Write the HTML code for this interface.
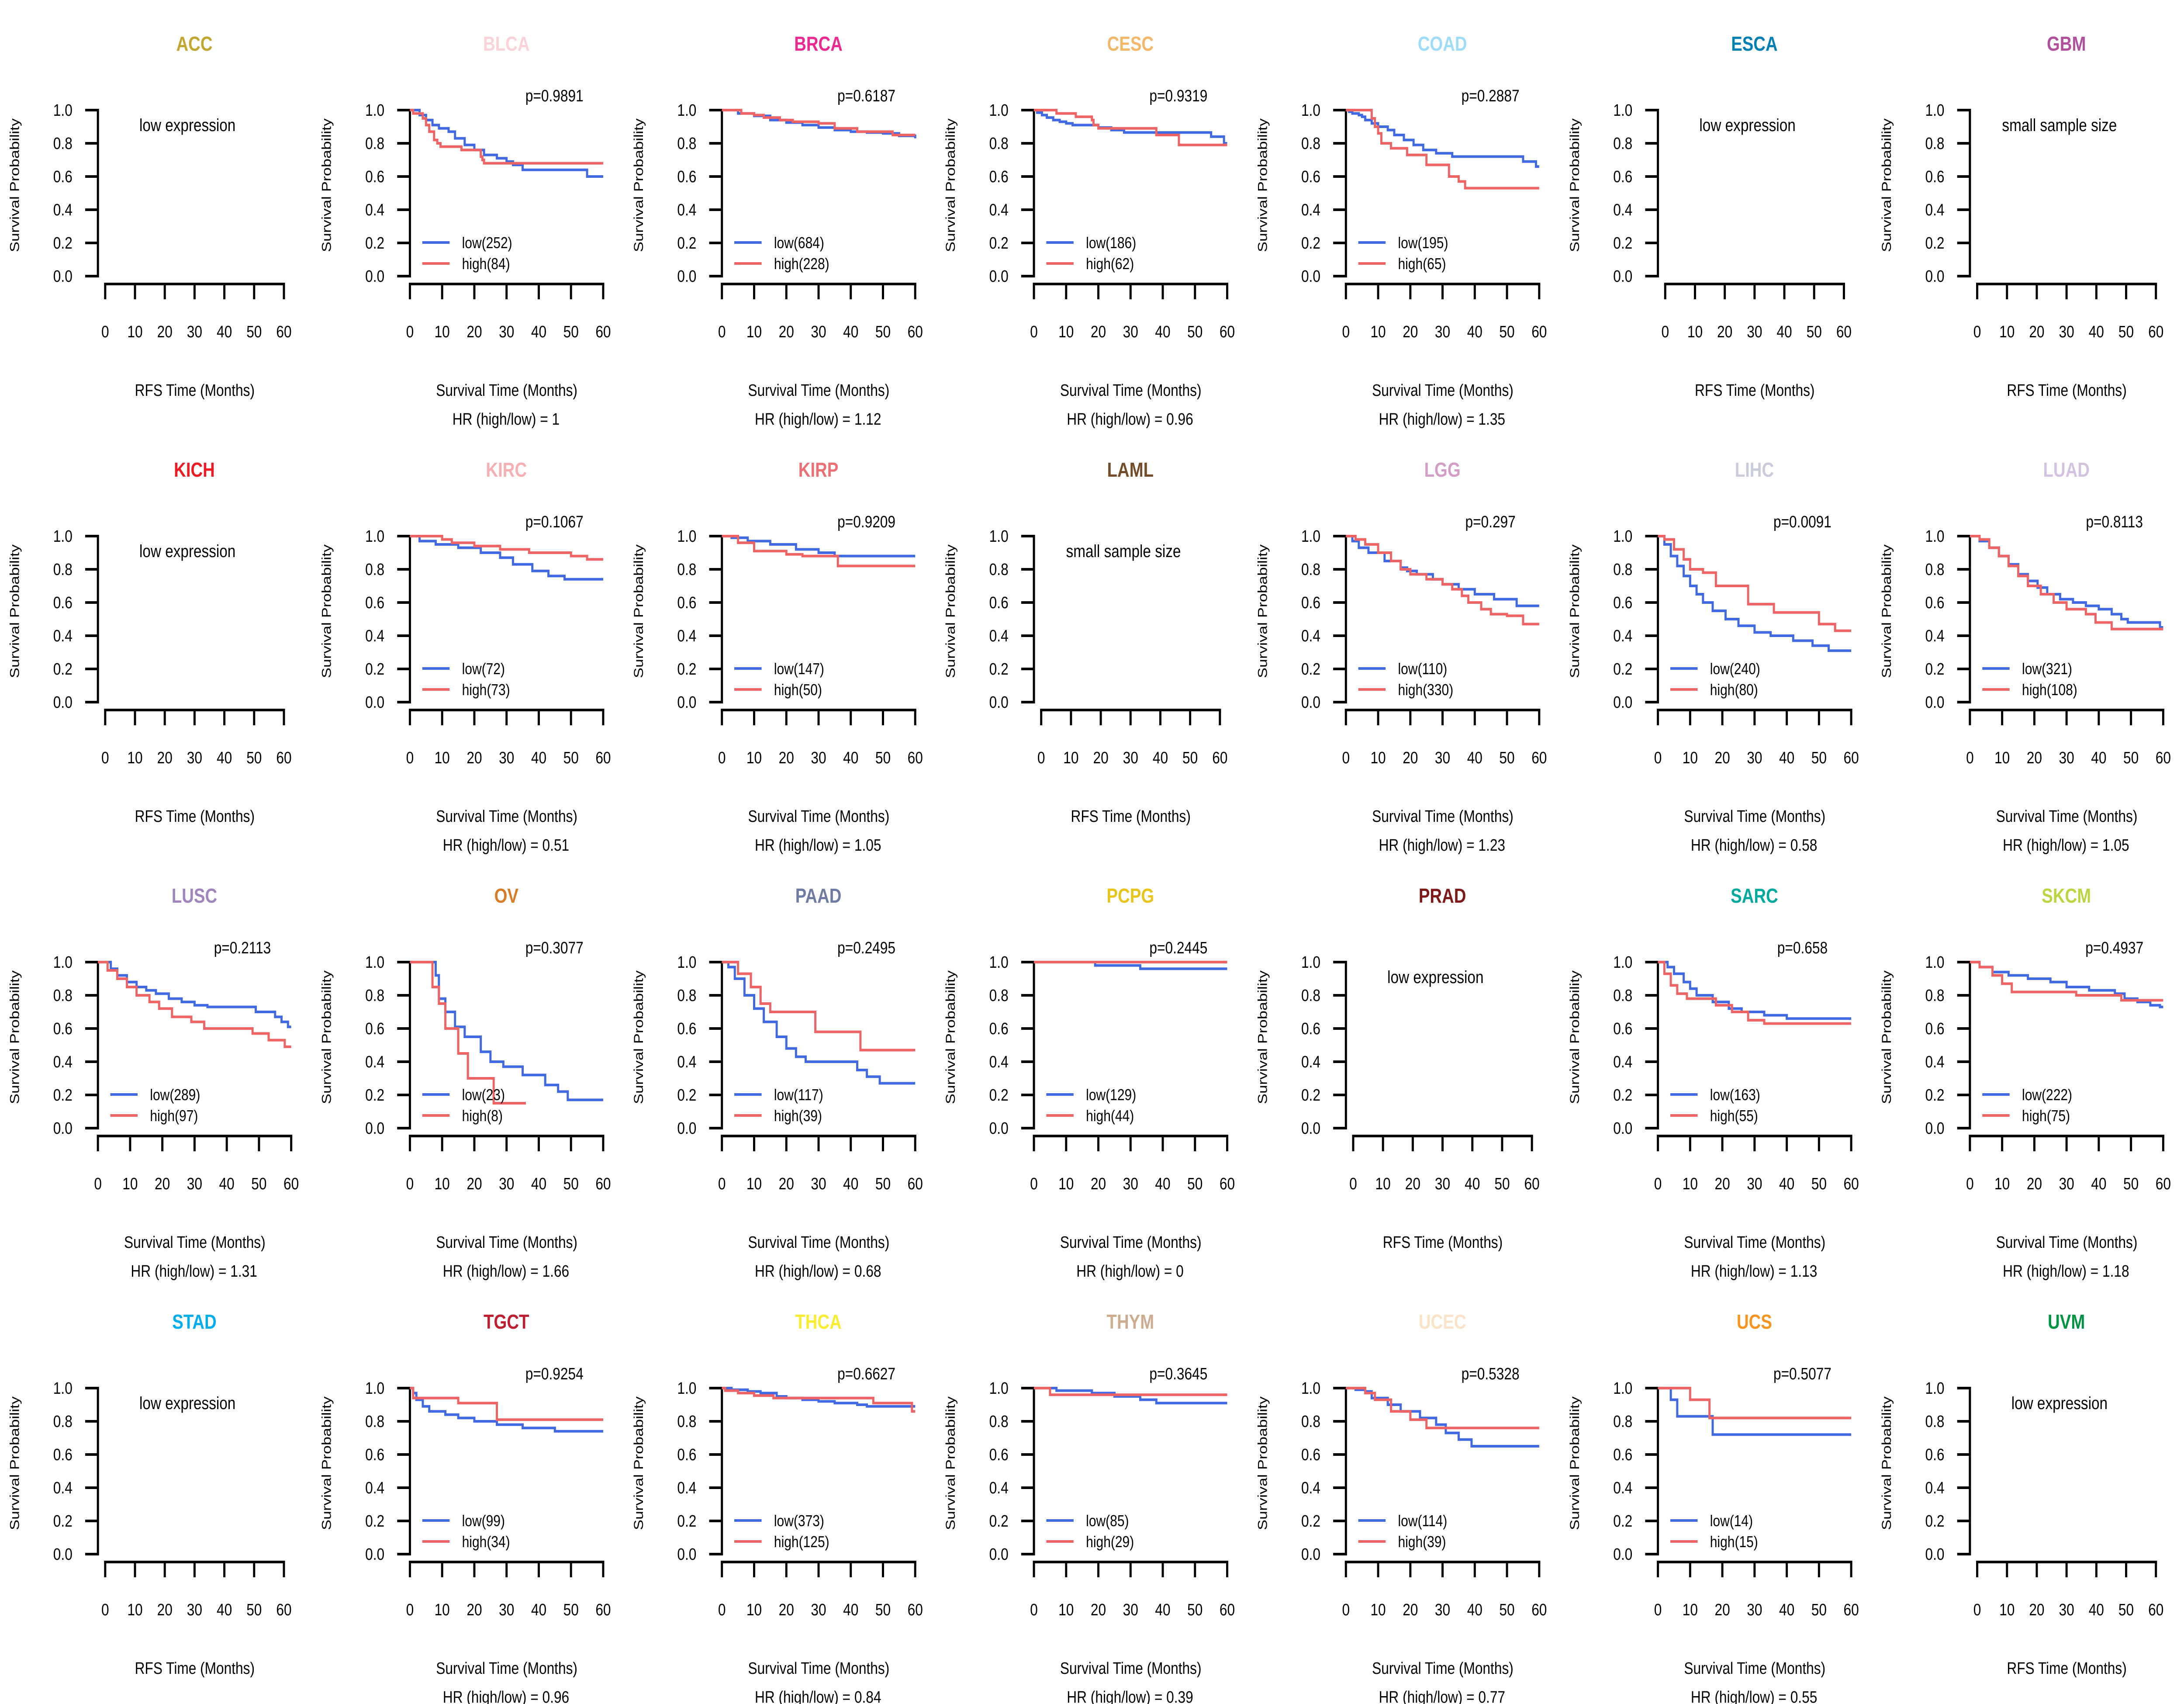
<!DOCTYPE html>
<html><head><meta charset="utf-8">
<style>
html,body{margin:0;padding:0;background:#fff;width:100%;height:100%;overflow:hidden;}
svg{display:block;font-family:"Liberation Sans",Arial,sans-serif;width:100vw;height:100vh;}
</style></head>
<body>
<svg id="chart" xmlns="http://www.w3.org/2000/svg" viewBox="0 0 6000 3900" preserveAspectRatio="none"></svg>
<script>
const cancers = ["ACC","BLCA","BRCA","CESC","COAD","ESCA","GBM","KICH","KIRC","KIRP","LAML","LGG","LIHC","LUAD","LUSC","OV","PAAD","PCPG","PRAD","SARC","SKCM","STAD","TGCT","THCA","THYM","UCEC","UCS","UVM"];
const titleColors = ["#C1A72F","#FAD2D9","#ED2891","#F6B667","#9EDDF9","#007EB5","#B2509E","#ED1C24","#F8AFB3","#EA7075","#754C29","#D49DC7","#CACCDB","#D3C3E0","#A084BD","#D97D25","#6E7BA2","#E8C51D","#7E1918","#00A99D","#BBD642","#00AEEF","#BE1E2D","#F9ED32","#CEAC8F","#FBE3C7","#F89420","#009444"];
const notes = {ACC:"low expression",ESCA:"low expression",GBM:"small sample size",KICH:"low expression",LAML:"small sample size",PRAD:"low expression",STAD:"low expression",UVM:"low expression"};
const pValues = {BLCA:"0.9891",BRCA:"0.6187",CESC:"0.9319",COAD:"0.2887",KIRC:"0.1067",KIRP:"0.9209",LGG:"0.297",LIHC:"0.0091",LUAD:"0.8113",LUSC:"0.2113",OV:"0.3077",PAAD:"0.2495",PCPG:"0.2445",SARC:"0.658",SKCM:"0.4937",TGCT:"0.9254",THCA:"0.6627",THYM:"0.3645",UCEC:"0.5328",UCS:"0.5077"};
const nLow = {BLCA:252,BRCA:684,CESC:186,COAD:195,KIRC:72,KIRP:147,LGG:110,LIHC:240,LUAD:321,LUSC:289,OV:23,PAAD:117,PCPG:129,SARC:163,SKCM:222,TGCT:99,THCA:373,THYM:85,UCEC:114,UCS:14};
const nHigh = {BLCA:84,BRCA:228,CESC:62,COAD:65,KIRC:73,KIRP:50,LGG:330,LIHC:80,LUAD:108,LUSC:97,OV:8,PAAD:39,PCPG:44,SARC:55,SKCM:75,TGCT:34,THCA:125,THYM:29,UCEC:39,UCS:15};
const hrValues = {BLCA:"1",BRCA:"1.12",CESC:"0.96",COAD:"1.35",KIRC:"0.51",KIRP:"1.05",LGG:"1.23",LIHC:"0.58",LUAD:"1.05",LUSC:"1.31",OV:"1.66",PAAD:"0.68",PCPG:"0",SARC:"1.13",SKCM:"1.18",TGCT:"0.96",THCA:"0.84",THYM:"0.39",UCEC:"0.77",UCS:"0.55"};
const xTicks = [0,10,20,30,40,50,60];
const yTicks = [0,0.2,0.4,0.6,0.8,1.0];
const yTickLabels = ["0.0","0.2","0.4","0.6","0.8","1.0"];
const lowT = {
BLCA:[0,3,5,7,9,12,14,17,20,23,27,30,32,35,55,60],
BRCA:[0,5,10,15,20,25,30,35,40,45,50,55,60],
CESC:[0,1,2.5,4,6,8,10,12,20,24,28,55,59,60],
COAD:[0,1,2,4,5,6,8,10,13,15,18,21,24,28,33,55,59,60],
KIRC:[0,3,8,15,22,28,32,38,43,48,60],
KIRP:[0,3,8,15,23,30,35,60],
LGG:[0,2,4,7,12,17,19,22,27,30,35,40,46,53,60],
LIHC:[0,2,4,6,8,10,12,14,17,21,25,30,35,42,48,53,60],
LUAD:[0,3,6,9,12,15,18,21,24,28,32,36,40,44,47,49,59,60],
LUSC:[0,4,6,9,12,15,18,22,26,30,34,49,55,57,59,60],
OV:[0,8,9,11,14,17,22,25,29,35,42,46,49,51,60],
PAAD:[0,2,4,7,10,13,17,20,23,26,42,45,49,60],
PCPG:[0,19,33,60],
SARC:[0,3,5,8,10,12,17,22,26,33,40,60],
SKCM:[0,3,7,12,18,25,30,37,45,48,52,56,59,60],
TGCT:[0,1,2,4,6,11,15,20,27,35,45,60],
THCA:[0,3,8,12,17,20,25,30,35,42,45,60],
THYM:[0,7,18,25,33,38,60],
UCEC:[0,3,6,8,13,17,23,28,31,35,39,60],
UCS:[0,4,6,17,60]};
const lowS = {
BLCA:[1,0.97,0.94,0.91,0.89,0.87,0.83,0.79,0.76,0.73,0.71,0.69,0.67,0.64,0.60,0.60],
BRCA:[1,0.98,0.965,0.94,0.925,0.91,0.895,0.88,0.87,0.865,0.86,0.845,0.83],
CESC:[1,0.985,0.97,0.955,0.94,0.93,0.92,0.91,0.895,0.88,0.865,0.84,0.80,0.80],
COAD:[1,0.99,0.98,0.97,0.96,0.94,0.92,0.90,0.88,0.85,0.82,0.79,0.76,0.74,0.72,0.69,0.66,0.66],
KIRC:[1,0.97,0.95,0.93,0.90,0.87,0.83,0.79,0.76,0.74,0.74],
KIRP:[1,0.99,0.97,0.95,0.92,0.90,0.88,0.88],
LGG:[1,0.97,0.93,0.90,0.85,0.81,0.79,0.77,0.74,0.71,0.68,0.65,0.62,0.58,0.58],
LIHC:[1,0.95,0.88,0.82,0.76,0.70,0.65,0.60,0.55,0.50,0.46,0.42,0.40,0.37,0.34,0.31,0.31],
LUAD:[1,0.97,0.93,0.88,0.83,0.77,0.73,0.69,0.65,0.62,0.60,0.58,0.56,0.53,0.50,0.48,0.45,0.45],
LUSC:[1,0.96,0.92,0.88,0.85,0.83,0.81,0.78,0.76,0.74,0.73,0.70,0.67,0.64,0.61,0.61],
OV:[1,0.92,0.78,0.70,0.61,0.55,0.46,0.40,0.37,0.32,0.26,0.22,0.17,0.17,0.17],
PAAD:[1,0.97,0.90,0.80,0.72,0.64,0.55,0.48,0.43,0.40,0.35,0.31,0.27,0.27],
PCPG:[1,0.98,0.96,0.96],
SARC:[1,0.97,0.93,0.88,0.84,0.80,0.76,0.72,0.70,0.68,0.66,0.66],
SKCM:[1,0.97,0.94,0.92,0.90,0.88,0.85,0.83,0.81,0.78,0.76,0.74,0.73,0.73],
TGCT:[1,0.97,0.93,0.89,0.86,0.84,0.82,0.80,0.78,0.76,0.74,0.74],
THCA:[1,0.99,0.98,0.97,0.95,0.94,0.93,0.92,0.91,0.90,0.89,0.89],
THYM:[1,0.985,0.97,0.95,0.93,0.91,0.91],
UCEC:[1,0.99,0.98,0.94,0.90,0.86,0.82,0.78,0.73,0.69,0.65,0.65],
UCS:[1,0.93,0.83,0.72,0.72]};
const highT = {
BLCA:[0,1,4,5,6,7.5,8.5,9.5,10.5,16,22,22.5,23,60],
BRCA:[0,6,10,13,18,22,30,35,42,53,60],
CESC:[0,7,13,18,18.5,20,22,38,45,60],
COAD:[0,8,9,10,11,14,19,25,32,35,37,60],
KIRC:[0,10,13,20,28,37,50,55,58,60],
KIRP:[0,5,10,20,25,36,38,60],
LGG:[0,3,6,10,14,17,20,25,30,33,36,38,42,45,50,55,60],
LIHC:[0,2,5,8,10,14,18,28,36,50,55,60],
LUAD:[0,3,6,9,12,15,18,22,26,30,36,39,44,60],
LUSC:[0,3,6,9,12,16,19,23,29,33,48,53,58,60],
OV:[0,7,9,11,15,18,26,29,36],
PAAD:[0,5,9,12,15,29,43,60],
PCPG:[0,60],
SARC:[0,2,4,6,9,18,23,28,33,60],
SKCM:[0,3,7,10,13,33,47,60],
TGCT:[0,1,15,27,60],
THCA:[0,1,5,10,16,47,59,60],
THYM:[0,5,60],
UCEC:[0,6,9,14,20,25,60],
UCS:[0,10,16,60]};
const highS = {
BLCA:[1,0.98,0.95,0.91,0.87,0.82,0.80,0.78,0.78,0.76,0.72,0.70,0.68,0.68],
BRCA:[1,0.98,0.97,0.955,0.94,0.93,0.92,0.89,0.87,0.85,0.85],
CESC:[1,0.98,0.96,0.94,0.91,0.89,0.89,0.85,0.79,0.79],
COAD:[1,0.95,0.90,0.86,0.80,0.77,0.73,0.67,0.60,0.57,0.53,0.53],
KIRC:[1,0.98,0.96,0.94,0.92,0.90,0.88,0.86,0.86,0.86],
KIRP:[1,0.96,0.91,0.89,0.88,0.82,0.82,0.82],
LGG:[1,0.98,0.95,0.90,0.85,0.80,0.77,0.74,0.71,0.68,0.64,0.60,0.56,0.53,0.52,0.47,0.47],
LIHC:[1,0.98,0.92,0.86,0.80,0.78,0.70,0.59,0.54,0.47,0.43,0.43],
LUAD:[1,0.98,0.93,0.88,0.82,0.76,0.70,0.65,0.60,0.56,0.53,0.48,0.44,0.44],
LUSC:[1,0.95,0.90,0.85,0.80,0.76,0.72,0.67,0.64,0.60,0.57,0.53,0.49,0.49],
OV:[1,0.85,0.75,0.60,0.45,0.30,0.15,0.15,0.15],
PAAD:[1,0.93,0.85,0.75,0.70,0.58,0.47,0.47],
PCPG:[1,1],
SARC:[1,0.93,0.86,0.81,0.78,0.74,0.70,0.65,0.63,0.63],
SKCM:[1,0.97,0.92,0.87,0.82,0.80,0.77,0.77],
TGCT:[1,0.94,0.91,0.81,0.81],
THCA:[1,0.985,0.97,0.955,0.94,0.91,0.86,0.86],
THYM:[1,0.96,0.96],
UCEC:[1,0.97,0.93,0.86,0.81,0.76,0.76],
UCS:[1,0.93,0.82,0.82]};

const svg = document.getElementById('chart');
const NS = "http://www.w3.org/2000/svg";
const PW = 6000/7, PH = 975;
function mk(tag, attrs, parent){const e=document.createElementNS(NS,tag);for(const k in attrs)e.setAttribute(k,attrs[k]);parent.appendChild(e);return e;}
function txt(parent,x,y,s,size,anchor,extra){const t=mk('text',Object.assign({x:x,y:y,'font-size':size,'text-anchor':anchor||'middle',fill:'#000'},extra||{}),parent);t.textContent=s;return t;}

cancers.forEach((c,i)=>{
  const col=i%7,row=Math.floor(i/7);
  const ox=col*PW, oy=row*PH;
  const g=mk('g',{},svg);
  
  
  const empty = !!notes[c];
  const sx = empty ? (t=>ox+289+t*491/60) : (t=>ox+269+t*531/60);
  const sy = s=>oy+632-s*380;
  const title=txt(g,ox+534,oy+116,c,46,'middle',{'font-weight':'bold',fill:titleColors[i]});
  
  
  const ya=mk('g',{},g);
  
  
  mk('line',{x1:ox+269,y1:sy(0),x2:ox+269,y2:sy(1),stroke:'#000','stroke-width':6,'stroke-linecap':'square'},ya);
  yTicks.forEach((v,k)=>{
    mk('line',{x1:ox+234,y1:sy(v),x2:ox+269,y2:sy(v),stroke:'#000','stroke-width':6},ya);
    const tl=txt(ya,ox+199,sy(v)+13,yTickLabels[k],38,'end');
    
    
  });
  const yl=txt(g,0,0,'Survival Probability',36,'middle',{transform:'translate('+(ox+52)+','+(oy+424)+') rotate(-90)'});
  
  
  const xa=mk('g',{},g);
  
  
  mk('line',{x1:sx(0),y1:oy+650,x2:sx(60),y2:oy+650,stroke:'#000','stroke-width':6,'stroke-linecap':'square'},xa);
  xTicks.forEach(v=>{
    mk('line',{x1:sx(v),y1:oy+650,x2:sx(v),y2:oy+685,stroke:'#000','stroke-width':6},xa);
    const tl=txt(xa,sx(v),oy+772,String(v),38,'middle');
    
    
  });
  const xl=txt(g,ox+535,oy+906,empty?'RFS Time (Months)':'Survival Time (Months)',38,'middle');
  
  
  if(empty){
    const n=txt(g,ox+515,oy+300,notes[c],40,'middle');
    
    
    return;
  }
  function stepPath(T,S){let d='M'+sx(T[0])+','+sy(S[0]);for(let k=1;k<T.length;k++){d+=' H'+sx(T[k])+' V'+sy(S[k]);}return d;}
  const lp=mk('path',{d:stepPath(lowT[c],lowS[c]),fill:'none',stroke:'#4169E1','stroke-width':6},g);
  
  
  const hp=mk('path',{d:stepPath(highT[c],highS[c]),fill:'none',stroke:'#EE6363','stroke-width':6},g);
  
  
  const p=txt(g,ox+666,oy+232,'p='+pValues[c],38,'middle');
  
  
  const lg=mk('g',{},g);
  
  
  mk('line',{x1:ox+303,y1:oy+555,x2:ox+378,y2:oy+555,stroke:'#4169E1','stroke-width':6},lg);
  const l1=txt(lg,ox+412,oy+568,'low('+nLow[c]+')',36,'start');
  
  
  mk('line',{x1:ox+303,y1:oy+603,x2:ox+378,y2:oy+603,stroke:'#EE6363','stroke-width':6},lg);
  const l2=txt(lg,ox+412,oy+616,'high('+nHigh[c]+')',36,'start');
  
  
  const hr=txt(g,ox+533,oy+972,'HR (high/low) =  '+hrValues[c],38,'middle',{'xml:space':'preserve'});
  
  
});
</script>
</body></html>
